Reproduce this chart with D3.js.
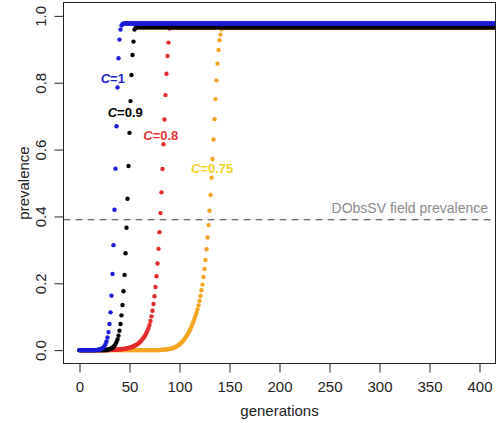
<!DOCTYPE html>
<html>
<head>
<meta charset="utf-8">
<script src="https://cdn.jsdelivr.net/npm/d3@7"></script>
<style>
  html, body { margin: 0; padding: 0; background: #fff; }
  svg { display: block; font-family: "Liberation Sans", Arial, Helvetica, sans-serif; }
</style>
</head>
<body>
<svg id="chart" width="498" height="423"></svg>
<script>
// ---------------- data ----------------
const cValues = ["1", "0.9", "0.8", "0.75"];
const lastGeneration = 420;
// first generation of the explicitly read rising portion (values before are 0)
const riseStart = [18, 27, 30, 80];
const riseC1 = [0.001, 0.0014, 0.002, 0.003, 0.004, 0.006, 0.008, 0.012, 0.018, 0.026,
  0.038, 0.054, 0.078, 0.113, 0.163, 0.228, 0.314, 0.420, 0.543, 0.670,
  0.786, 0.873, 0.929, 0.959, 0.971, 0.975];
const riseC09 = [0.001, 0.0015, 0.002, 0.003, 0.004, 0.005, 0.007, 0.010, 0.013, 0.018,
  0.024, 0.032, 0.043, 0.058, 0.078, 0.104, 0.135, 0.176, 0.225, 0.290,
  0.366, 0.453, 0.551, 0.650, 0.745, 0.823, 0.883, 0.923, 0.959, 0.964];
const riseC08 = [0.0006, 0.0007, 0.0008, 0.0009, 0.001, 0.0012, 0.0013, 0.0015, 0.0017, 0.002,
  0.0022, 0.0025, 0.0028, 0.003, 0.0035, 0.004, 0.0044, 0.005, 0.0056, 0.0063,
  0.007, 0.008, 0.009, 0.010, 0.0115, 0.013, 0.0145, 0.016, 0.018, 0.0205,
  0.023, 0.026, 0.029, 0.033, 0.037, 0.041, 0.046, 0.052, 0.059, 0.066,
  0.075, 0.087, 0.101, 0.118, 0.138, 0.161, 0.189, 0.221, 0.259, 0.303,
  0.353, 0.410, 0.472, 0.542, 0.616, 0.690, 0.763, 0.827, 0.880, 0.920,
  0.962, 0.965];
const riseC075 = [0.0006, 0.0008, 0.0009, 0.0011, 0.0013, 0.0016, 0.0019, 0.0022, 0.0026, 0.0031,
  0.0037, 0.0043, 0.005, 0.006, 0.007, 0.008, 0.0095, 0.011, 0.013, 0.015,
  0.017, 0.020, 0.023, 0.026, 0.029, 0.033, 0.037, 0.042, 0.047, 0.052,
  0.058, 0.064, 0.071, 0.078, 0.086, 0.094, 0.103, 0.112, 0.122, 0.134,
  0.147, 0.162, 0.179, 0.196, 0.219, 0.243, 0.270, 0.302, 0.337, 0.374,
  0.417, 0.464, 0.516, 0.572, 0.630, 0.691, 0.751, 0.807, 0.857, 0.898,
  0.927, 0.944, 0.960, 0.964];
const riseValues = [riseC1, riseC09, riseC08, riseC075];
const plateau = [0.977, 0.966, 0.966, 0.966];
const fieldPrevalence = 0.39;
const fieldLabel = "DObsSV field prevalence";
const xTicks = [0, 50, 100, 150, 200, 250, 300, 350, 400];
const yTicks = [0, 0.2, 0.4, 0.6, 0.8, 1.0];

// ---------------- styles ----------------
const dotColors = ["#1a1ad8", "#000000", "#e42a2a", "#f5a321"];
const labelColors = ["#2222cc", "#000000", "#e33535", "#f2d41e"];
const labelPos = [[100.7, 83.3], [107.7, 117.3], [143.3, 140], [191, 172.7]]; // px (start, baseline)

// ---------------- build points (run-length decode) ----------------
const series = cValues.map((c, i) => {
  const pts = [];
  for (let g = 0; g < riseStart[i]; g++) pts.push({ g, v: 0 });
  riseValues[i].forEach((v, k) => pts.push({ g: riseStart[i] + k, v }));
  for (let g = riseStart[i] + riseValues[i].length; g <= lastGeneration; g++) pts.push({ g, v: plateau[i] });
  return { c, pts, i };
});

// ---------------- chart ----------------
const svg = d3.select("#chart");
const mLeft = 63.5, mRight = 495.5, mTop = 2.5, mBottom = 363.5;
const x = d3.scaleLinear().domain([-16, 416]).range([mLeft, mRight]);
const y = d3.scaleLinear().domain([-0.04, 1.04]).range([mBottom, mTop]);

svg.append("defs").append("clipPath").attr("id", "clip")
  .append("rect").attr("x", mLeft).attr("y", mTop).attr("width", mRight - mLeft).attr("height", mBottom - mTop);

const plot = svg.append("g").attr("clip-path", "url(#clip)");

// field prevalence line
plot.append("line")
  .attr("x1", mLeft).attr("x2", mRight)
  .attr("y1", y(fieldPrevalence)).attr("y2", y(fieldPrevalence))
  .attr("stroke", "#3a3a3a").attr("stroke-width", 1.1)
  .attr("stroke-dasharray", "7,5");

// dots: draw C=0.75 first, C=1 last
series.slice().reverse().forEach(s => {
  plot.append("g").selectAll("circle").data(s.pts).join("circle")
    .attr("cx", d => x(d.g)).attr("cy", d => y(d.v)).attr("r", 2.2)
    .attr("fill", dotColors[s.i]);
});

// box
svg.append("rect").attr("x", mLeft).attr("y", mTop)
  .attr("width", mRight - mLeft).attr("height", mBottom - mTop)
  .attr("fill", "none").attr("stroke", "#222").attr("stroke-width", 1);

// x axis
const xAxis = svg.append("g").attr("transform", `translate(0,${mBottom})`)
  .call(d3.axisBottom(x).tickValues(xTicks).tickSize(9).tickPadding(9).tickFormat(d3.format("d")));
xAxis.select(".domain").remove();
xAxis.selectAll("line").attr("stroke", "#222");
xAxis.selectAll("text").attr("font-size", 15).attr("fill", "#222")
  .attr("font-family", "Liberation Sans, Arial, sans-serif");

// y axis
const yAxis = svg.append("g").attr("transform", `translate(${mLeft},0)`)
  .call(d3.axisLeft(y).tickValues(yTicks).tickSize(9).tickFormat(d3.format(".1f")));
yAxis.select(".domain").remove();
yAxis.selectAll("line").attr("stroke", "#222");
yAxis.selectAll("text").remove();
yAxis.selectAll(".tick").append("text")
  .attr("transform", "translate(-18,0) rotate(-90)")
  .attr("text-anchor", "middle")
  .attr("font-size", 15).attr("fill", "#222")
  .attr("font-family", "Liberation Sans, Arial, sans-serif")
  .text(d => d3.format(".1f")(d));

// axis titles
svg.append("text").attr("x", (mLeft + mRight) / 2).attr("y", 416)
  .attr("text-anchor", "middle").attr("font-size", 15).attr("fill", "#222")
  .text("generations");
svg.append("text").attr("transform", `translate(29,${(mTop + mBottom) / 2}) rotate(-90)`)
  .attr("text-anchor", "middle").attr("font-size", 15).attr("fill", "#222")
  .text("prevalence");

// field prevalence label
svg.append("text").attr("x", 488).attr("y", 213)
  .attr("text-anchor", "end").attr("font-size", 14).attr("fill", "#8a8a8a")
  .text(fieldLabel);

// C labels
cValues.forEach((c, i) => {
  const t = svg.append("text").attr("x", labelPos[i][0]).attr("y", labelPos[i][1])
    .attr("font-size", 13).attr("font-weight", "bold").attr("fill", labelColors[i]);
  t.append("tspan").attr("font-style", "italic").text("C");
  t.append("tspan").text("=" + c);
});
</script>
</body>
</html>
